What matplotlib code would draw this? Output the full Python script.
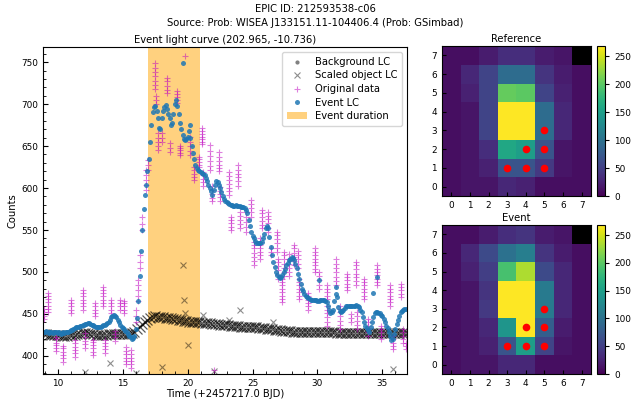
import numpy as np
import matplotlib
matplotlib.use('Agg')
import matplotlib.pyplot as plt
from matplotlib.ticker import MultipleLocator

# ---------------- data ----------------
# Event LC, sampled every 0.1 d from t = 8.9 to 36.8 (one row per day)
event_t0, event_dt = 8.9, 0.1
event_v = [429, 428, 430, 428, 427, 429, 428, 427, 428, 429, 428,
           427, 428, 426, 427, 428, 427, 428, 429, 429, 430,
           431, 431, 432, 433, 434, 434, 435, 436, 436, 437,
           437, 438, 438, 439, 439, 438, 437, 437, 436, 435,
           434, 434, 435, 435, 436, 437, 437, 438, 439, 441,
           443, 446, 448, 449, 448, 446, 443, 440, 437, 435,
           433, 432, 430, 428, 426, 424, 422, 420, 421, 424,
           432, 445, 465, 495, 525, 550, 575, 592, 604, 620,
           635, 655, 675, 690, 697, 698, 692, 684, 672, 670,
           684, 692, 697, 699, 694, 688, 684, 675, 678, 688,
           700, 705, 698, 688, 678, 670, 663, 658, 657, 658,
           661, 668, 660, 650, 642, 635, 628, 624, 621, 620,
           619, 618, 617, 615, 612, 608, 604, 600, 597, 592,
           598, 604, 608, 607, 604, 600, 595, 590, 587, 585,
           583, 582, 581, 580, 580, 579, 579, 580, 579, 579,
           579, 578, 578, 577, 576, 574, 570, 562, 555, 548,
           543, 540, 537, 535, 534, 534, 535, 536, 540, 545,
           552, 555, 552, 542, 530, 520, 512, 506, 500, 497,
           494, 493, 494, 497, 500, 504, 508, 511, 514, 516,
           518, 517, 514, 510, 505, 498, 492, 486, 480, 477,
           474, 472, 470, 469, 468, 467, 467, 467, 467, 467,
           466, 466, 467, 467, 467, 467, 466, 464, 460, 455,
           451, 452, 455, 465, 482, 470, 458, 454, 452, 453,
           455, 457, 459, 460, 460, 459, 459, 459, 460, 460,
           461, 460, 458, 455, 452, 446, 440, 436, 433, 431,
           429, 434, 440, 446, 451, 452, 452, 451, 451, 449,
           447, 444, 440, 436, 433, 428, 424, 419, 420, 426,
           432, 438, 443, 448, 452, 454, 455, 456, 456]
event_extra_t = [19.6, 20.15, 30.15, 34.3, 34.55, 31.45]
event_extra_v = [749, 675, 490, 475, 494, 474]

# Scaled object LC (centre of the dense band), every 0.2 d from t = 8.9
obj_t0, obj_dt = 8.9, 0.2
obj_v = [426, 426, 425, 425, 425, 425, 425, 424, 424, 424, 425, 425, 425, 426, 426, 427,
         427, 427, 426, 426, 425, 425, 425, 425, 425, 426, 426, 426, 426, 426, 426,
         426, 426, 426, 427, 429, 432, 435, 438, 441, 443, 445, 446, 447, 446, 446,
         446, 445, 445, 445, 444, 444, 443, 443, 442, 442, 441, 441, 440, 440, 440,
         439, 439, 439, 439, 438, 438, 438, 437, 437, 437, 437, 436, 436, 436, 436,
         435, 435, 435, 435, 434, 434, 434, 433, 433, 433, 432, 432, 432, 431, 431,
         431, 430, 430, 430, 430, 429, 429, 429, 429, 428, 428, 428, 428, 428, 428,
         428, 428, 428, 428, 428, 428, 428, 427, 427, 427, 427, 427, 427, 427, 427,
         427, 427, 427, 427, 427, 427, 427, 427, 427, 427, 427, 427, 427, 427, 427,
         427, 427, 427, 427, 427]
obj_out_t = [12.1, 14.05, 16.05, 18.0, 19.64, 19.7, 19.8, 20.0, 21.2, 22.0, 23.2, 24.0, 26.6, 35.85]
obj_out_v = [381, 392, 380, 387, 508, 467, 451, 413, 449, 382, 443, 455, 441, 385]

background_t = []   # background LC lies outside the plotted count range
background_v = []

orig_t = [8.9, 9.23, 9.88, 10.39, 11.03, 11.29, 11.93, 12.06, 12.7, 12.82, 13.46, 13.59, 14.1,
          14.36, 14.75, 15.13, 15.26, 15.64, 16.0, 16.15, 16.3, 16.5, 16.8, 16.95, 17.45, 17.55,
          17.7, 18.0, 18.4, 18.6, 19.2, 19.4, 19.77, 20.2, 20.5, 20.85, 21.1, 21.2, 21.7, 21.9,
          22.0, 22.4, 22.5, 23.2, 23.3, 23.9, 24.0, 24.5, 24.9, 25.1, 25.55, 25.7, 26.2, 26.4,
          26.9, 26.95, 27.3, 27.4, 27.8, 28.2, 28.5, 28.6, 29.25, 29.8, 30.15, 30.7, 30.75,
          31.4, 31.7, 32.3, 32.6, 33.0, 33.05, 33.6, 33.9, 34.6, 34.9, 35.6, 35.8, 36.4, 36.6,
          36.85]
orig_v = [[444, 448, 452, 456], [452, 456, 460, 464, 468, 472, 475], [406, 410, 413, 416, 420, 423],
          [393, 397, 401, 405, 409, 412], [451, 455, 459, 463, 467], [399, 403, 407, 411, 415, 419],
          [455, 459, 463, 467, 471, 475, 478], [410, 414, 418, 422, 427], [401, 405, 409, 413, 417, 419],
          [447, 451, 455, 459, 463], [459, 463, 467, 471, 475, 479, 482], [404, 408, 412, 416, 419],
          [451, 455, 459, 463, 467], [418, 422, 426, 430], [455, 459, 463, 467],
          [451, 455, 459, 463, 466], [390, 394, 398, 402, 406, 411], [386, 390, 394, 398, 402, 407],
          [440, 447, 455], [465, 471, 478, 484, 490], [505, 512, 520], [550, 557, 565],
          [598, 604, 610, 616, 621], [621, 627, 633], [718, 723, 728, 733, 738, 743, 749],
          [700, 705, 710], [645, 650, 655, 660, 665], [655, 660, 665], [713, 717, 722, 727, 731],
          [643, 648, 654], [701, 705, 708, 712, 716], [639, 642, 645, 648, 650], [757],
          [639, 644, 650, 655, 661], [609, 613, 617, 621, 625], [625, 628, 631, 634, 637],
          [652, 655, 658, 661, 664, 668, 671], [603, 607, 611, 615, 619],
          [621, 626, 632, 638, 644, 651], [584, 588, 593, 598, 603], [383],
          [620, 624, 628, 632, 637, 643], [585, 589, 593, 597, 601],
          [592, 596, 600, 605, 609, 614, 619], [550, 554, 558, 562, 566],
          [603, 608, 613, 617, 622, 628], [552, 557, 562, 567, 572], [548, 554, 560, 566, 572],
          [566, 571, 576, 581, 586], [508, 513, 518, 523, 528, 532, 536],
          [516, 520, 524, 528, 532, 536, 540], [552, 556, 561, 565, 570, 574],
          [548, 553, 558, 563, 567, 572], [520, 524, 528], [524, 529, 534, 539, 544, 548],
          [492, 497, 502, 507, 512, 516], [464, 468, 472, 476, 480, 484, 488, 492],
          [495, 500, 505, 510, 515, 520, 524], [495, 500, 505, 510, 515, 522],
          [508, 513, 518, 523, 528, 532], [505, 510, 515, 520, 525],
          [468, 472, 476, 480, 484, 488, 492], [455, 459, 463, 467, 471, 475],
          [500, 504, 508, 512, 516, 520, 524, 528], [480, 485, 490, 495, 500],
          [468, 472, 476, 480, 484], [436, 441, 446, 451, 455, 460],
          [484, 489, 494, 500, 505, 510, 516], [432, 437, 442, 447, 452, 456, 460],
          [478, 482, 486, 490, 494, 498], [440, 445, 450], [484, 489, 494, 498, 503, 508, 512],
          [432, 437, 442, 447, 452], [468, 472, 476, 480, 484, 488, 492],
          [424, 428, 432, 436, 440, 444], [484, 488, 492, 496, 500, 504, 508],
          [420, 424, 428, 432, 436], [460, 464, 468, 472, 476, 480, 484],
          [408, 412, 416, 420, 424], [470, 474, 478, 482, 486], [416, 420, 424, 428, 432],
          [408, 412, 415]]

event_start, event_end = 16.93, 20.97

ref_img = [[10, 15, 15, 30, 25, 10, 10, 10],
           [10, 15, 25, 70, 70, 45, 15, 10],
           [10, 15, 35, 160, 150, 70, 15, 10],
           [10, 15, 55, 268, 268, 95, 30, 10],
           [10, 15, 55, 268, 268, 95, 30, 10],
           [10, 25, 55, 205, 200, 55, 25, 10],
           [10, 30, 55, 95, 95, 40, 20, 10],
           [10, 10, 20, 35, 35, 20, 15, np.nan]]
evt_img = [[10, 15, 15, 30, 30, 10, 10, 10],
           [10, 15, 25, 70, 150, 55, 15, 10],
           [10, 15, 30, 140, 268, 80, 20, 10],
           [10, 15, 45, 268, 268, 110, 30, 10],
           [10, 15, 40, 268, 268, 110, 30, 10],
           [10, 25, 50, 190, 235, 60, 30, 10],
           [10, 30, 60, 100, 115, 40, 20, 10],
           [10, 10, 20, 35, 40, 20, 15, np.nan]]
pix_x = [3, 4, 5, 4, 5, 5]
pix_y = [1, 1, 1, 2, 2, 3]

# ---------------- figure ----------------
W, H = 631, 407
fig = plt.figure(figsize=(W / 100, H / 100), dpi=100)

def ax_px(l, t, r, b):
    return fig.add_axes([l / W, 1 - b / H, (r - l) / W, (b - t) / H])

TS = 7.2
TK = 6.4

fig.text(0.5, 1 - 9 / H, "EPIC ID: 212593538-c06", ha='center', va='center', fontsize=TS)
fig.text(0.5, 1 - 23 / H, "Source: Prob: WISEA J133151.11-104406.4 (Prob: GSimbad)",
         ha='center', va='center', fontsize=TS)

ax = ax_px(43, 47, 407, 374)
ev_t = event_t0 + event_dt * np.arange(len(event_v))
ob_t = obj_t0 + obj_dt * np.arange(len(obj_v))

ax.plot(background_t, background_v, '.', color='gray', ms=4, label='Background LC')
ax.plot(ob_t, obj_v, 'x', color='black', alpha=0.65, ms=7, mew=0.9)
ax.plot(obj_out_t, obj_out_v, 'x', color='black', alpha=0.45, ms=5, mew=0.8, label='Scaled object LC')
ot = [t for t, vs in zip(orig_t, orig_v) for _ in vs]
ov = [v for vs in orig_v for v in vs]
ax.plot(ot, ov, '+', color='m', alpha=0.5, ms=5, mew=0.8, label='Original data')
ax.plot(list(ev_t) + event_extra_t, list(event_v) + event_extra_v, 'o', color='#1f77b4',
        alpha=0.85, ms=3.6, mew=0, label='Event LC')
ax.axvspan(event_start, event_end, color='orange', alpha=0.5, lw=0, label='Event duration', zorder=0)

ax.set_xlim(8.85, 36.9)
ax.set_ylim(378.5, 768)
ax.xaxis.set_major_locator(MultipleLocator(5))
ax.xaxis.set_minor_locator(MultipleLocator(1))
ax.yaxis.set_major_locator(MultipleLocator(50))
ax.yaxis.set_minor_locator(MultipleLocator(10))
ax.tick_params(which='both', direction='in', labelsize=TK)
ax.tick_params(which='major', length=3.5)
ax.tick_params(which='minor', length=2)
ax.set_xlabel("Time (+2457217.0 BJD)", fontsize=TS, labelpad=1)
ax.set_ylabel("Counts", fontsize=TS, labelpad=3)
ax.set_title("Event light curve (202.965, -10.736)", fontsize=TS, pad=3)
ax.legend(loc='upper right', fontsize=TS, handlelength=2.0, borderpad=0.5, labelspacing=0.35)

cmap = plt.get_cmap('viridis').copy()
cmap.set_bad('black')

for (t, b), img, name in [((46, 196), ref_img, "Reference"), ((225, 374), evt_img, "Event")]:
    iax = ax_px(442, t, 591, b)
    im = iax.imshow(np.ma.masked_invalid(np.array(img, dtype=float)), origin='lower', cmap=cmap,
                    vmin=0, vmax=268, aspect='auto', interpolation='nearest')
    iax.plot(pix_x, pix_y, 'o', color='red', ms=5.5, mew=0)
    iax.set_xlim(-0.5, 7.5)
    iax.set_ylim(-0.5, 7.5)
    iax.set_xticks(range(8))
    iax.set_yticks(range(8))
    iax.tick_params(direction='in', labelsize=TK, length=3)
    iax.set_title(name, fontsize=TS, pad=3)
    cax = ax_px(597, t, 605, b)
    cb = fig.colorbar(im, cax=cax)
    cb.set_ticks([0, 50, 100, 150, 200, 250])
    cb.ax.tick_params(labelsize=TK, length=3)

fig.savefig("out.png", dpi=100)
